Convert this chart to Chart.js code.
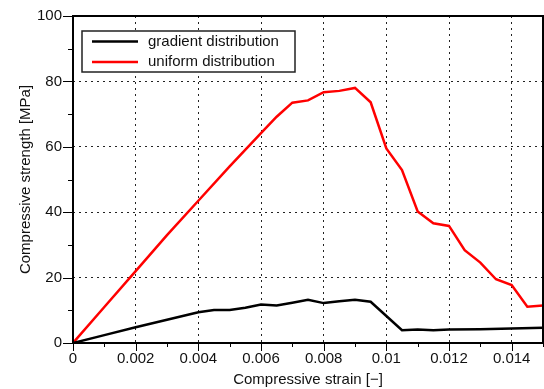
<!DOCTYPE html>
<html>
<head>
<meta charset="utf-8">
<script src="https://cdn.jsdelivr.net/npm/chart.js@4/dist/chart.umd.min.js"></script>
<style>
    html, body { margin: 0; padding: 0; background: #fff; }
    #wrap { width: 544px; height: 389px; }
</style>
</head>
<body>
<div id="wrap"><canvas id="chart"></canvas></div>
<script>
const seriesLabels = ['gradient distribution', 'uniform distribution'];

const gradientStrain = [0, 0.001, 0.002, 0.003, 0.004, 0.0045, 0.005, 0.0055, 0.006, 0.0065, 0.007, 0.0075, 0.008, 0.0085, 0.009, 0.0095, 0.0105, 0.011, 0.0115, 0.012, 0.013, 0.014, 0.015];
const gradientStrength = [0, 2.4, 4.8, 7.1, 9.4, 10.1, 10.1, 10.8, 11.8, 11.5, 12.3, 13.2, 12.2, 12.8, 13.2, 12.6, 3.9, 4.1, 3.9, 4.1, 4.2, 4.4, 4.7];

const uniformStrain = [0, 0.001, 0.002, 0.003, 0.004, 0.005, 0.006, 0.0065, 0.007, 0.0075, 0.008, 0.0085, 0.009, 0.0095, 0.01, 0.0105, 0.011, 0.0115, 0.012, 0.0125, 0.013, 0.0135, 0.014, 0.0145, 0.015];
const uniformStrength = [0, 11, 22, 33, 43.5, 54, 64.2, 69.2, 73.5, 74.2, 76.7, 77.1, 78, 73.6, 59.5, 52.9, 40.2, 36.6, 35.8, 28.4, 24.6, 19.5, 17.7, 11.1, 11.5];

const xTicks = [0, 0.001, 0.002, 0.003, 0.004, 0.005, 0.006, 0.007, 0.008, 0.009, 0.01, 0.011, 0.012, 0.013, 0.014, 0.015];
const yTicks = [0, 10, 20, 30, 40, 50, 60, 70, 80, 90, 100];

const font = "'Liberation Sans', Arial, sans-serif";

const toPoints = (xs, ys) => xs.map((x, i) => ({ x: x, y: ys[i] }));

const isMajorX = (v) => Math.round(v * 1000) % 2 === 0;
const isMajorY = (v) => Math.round(v) % 20 === 0;

// frame, outward tick marks and the boxed legend
const framePlugin = {
    id: 'frame',
    afterDraw(chart) {
        const { ctx, chartArea: a, scales } = chart;
        ctx.save();
        ctx.strokeStyle = '#000';
        ctx.lineWidth = 1;
        xTicks.forEach((v) => {
            const px = Math.round(scales.x.getPixelForValue(v)) + 0.5;
            ctx.beginPath();
            ctx.moveTo(px, a.bottom);
            ctx.lineTo(px, a.bottom + (isMajorX(v) ? 8 : 4));
            ctx.stroke();
        });
        yTicks.forEach((v) => {
            const py = Math.round(scales.y.getPixelForValue(v)) + 0.5;
            ctx.beginPath();
            ctx.moveTo(a.left, py);
            ctx.lineTo(a.left - (isMajorY(v) ? 10 : 5), py);
            ctx.stroke();
        });
        ctx.lineWidth = 2;
        ctx.strokeRect(a.left, a.top, a.right - a.left, a.bottom - a.top);

        // legend
        const bx = 82, by = 31, bw = 213, bh = 41;
        ctx.fillStyle = '#fff';
        ctx.fillRect(bx, by, bw, bh);
        ctx.lineWidth = 1.5;
        ctx.strokeStyle = '#222';
        ctx.strokeRect(bx, by, bw, bh);
        ctx.font = '15px ' + font;
        ctx.textBaseline = 'middle';
        chart.data.datasets.forEach((ds, i) => {
            const ly = by + 10.5 + i * 20.5;
            ctx.strokeStyle = ds.borderColor;
            ctx.lineWidth = 2.5;
            ctx.beginPath();
            ctx.moveTo(bx + 10, ly);
            ctx.lineTo(bx + 56, ly);
            ctx.stroke();
            ctx.fillStyle = '#111';
            ctx.fillText(ds.label, bx + 66, ly);
        });
        ctx.restore();
    },
};

new Chart(document.getElementById('chart'), {
    type: 'line',
    data: {
        datasets: [
            {
                label: seriesLabels[0],
                data: toPoints(gradientStrain, gradientStrength),
                borderColor: '#000000',
                borderWidth: 2.5,
                pointRadius: 0,
                tension: 0,
            },
            {
                label: seriesLabels[1],
                data: toPoints(uniformStrain, uniformStrength),
                borderColor: '#ff0000',
                borderWidth: 2.5,
                pointRadius: 0,
                tension: 0,
            },
        ],
    },
    options: {
        responsive: true,
        maintainAspectRatio: false,
        animation: false,
        layout: {
            padding: { top: 16, right: 1, left: 0, bottom: 0 },
        },
        scales: {
            x: {
                type: 'linear',
                min: 0,
                max: 0.015,
                afterFit: (scale) => {
                    scale.height = 46;
                    scale.paddingLeft = 0;
                    scale.paddingRight = 0;
                },
                afterBuildTicks: (scale) => { scale.ticks = xTicks.map((v) => ({ value: v })); },
                ticks: {
                    autoSkip: false,
                    maxRotation: 0,
                    padding: 7,
                    color: '#111',
                    font: { family: font, size: 15 },
                    callback: (v) => (isMajorX(v) ? String(Math.round(v * 1000) / 1000) : ''),
                },
                grid: {
                    drawTicks: false,
                    color: (c) => (c.tick && isMajorX(c.tick.value) ? '#222' : 'rgba(0,0,0,0)'),
                    lineWidth: 1,
                },
                border: { display: false, dash: [2, 4] },
                title: {
                    display: true,
                    text: 'Compressive strain [\u2212]',
                    color: '#111',
                    font: { family: font, size: 15 },
                    padding: { top: 0, bottom: 0 },
                },
            },
            y: {
                min: 0,
                max: 100,
                afterFit: (scale) => {
                    scale.width = 73;
                    scale.paddingTop = 0;
                    scale.paddingBottom = 0;
                },
                afterBuildTicks: (scale) => { scale.ticks = yTicks.map((v) => ({ value: v })); },
                ticks: {
                    autoSkip: false,
                    padding: 11,
                    color: '#111',
                    font: { family: font, size: 15 },
                    callback: (v) => (isMajorY(v) ? String(v) : ''),
                },
                grid: {
                    drawTicks: false,
                    color: (c) => (c.tick && isMajorY(c.tick.value) ? '#222' : 'rgba(0,0,0,0)'),
                    lineWidth: 1,
                },
                border: { display: false, dash: [2, 4] },
                title: {
                    display: true,
                    text: 'Compressive strength [MPa]',
                    color: '#111',
                    font: { family: font, size: 15 },
                    padding: { top: 17, bottom: 0 },
                },
            },
        },
        plugins: {
            legend: { display: false },
            tooltip: { enabled: false },
        },
    },
    plugins: [framePlugin],
});
</script>
</body>
</html>
